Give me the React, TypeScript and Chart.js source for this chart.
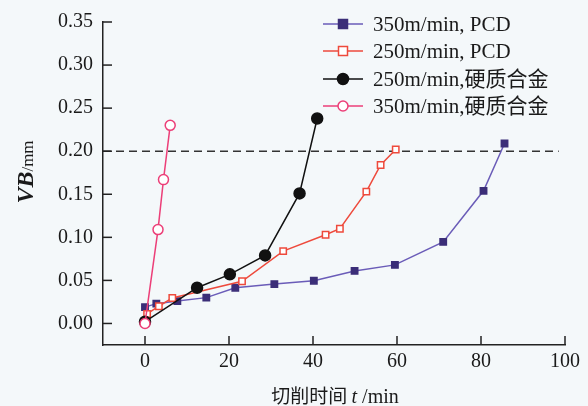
import React, { useEffect, useRef } from "react";
import { Chart, registerables } from "chart.js";
Chart.register(...registerables);

const SERIF = '"Liberation Serif", "Noto Sans CJK SC", serif';

const seriesLabels = ["350m/min, PCD", "250m/min, PCD", "250m/min,硬质合金", "350m/min,硬质合金"];

const pcd350X = [0, 2.7, 7.7, 14.6, 21.5, 30.8, 40.2, 49.9, 59.5, 71, 80.6, 85.6];
const pcd350Y = [0.019, 0.023, 0.026, 0.030, 0.0415, 0.0457, 0.0496, 0.061, 0.068, 0.0947, 0.154, 0.209];

const pcd250X = [0.5, 3.3, 6.5, 23.1, 32.9, 43, 46.4, 52.7, 56.1, 59.7];
const pcd250Y = [0.011, 0.020, 0.0296, 0.049, 0.084, 0.103, 0.110, 0.153, 0.184, 0.202];

const hard250X = [0, 12.4, 20.2, 28.6, 36.8, 41];
const hard250Y = [0.002, 0.0415, 0.057, 0.079, 0.151, 0.238];

const hard350X = [0, 3.1, 4.4, 6];
const hard350Y = [0, 0.109, 0.167, 0.23];

const limitX = [-10, 98.5];
const limitY = [0.2, 0.2];

const xTicks = [0, 20, 40, 60, 80, 100];
const yTicks = [0, 0.05, 0.1, 0.15, 0.2, 0.25, 0.3, 0.35];

const xTitle = "切削时间";
const xTitleVar = "t";
const xTitleUnit = " /min";
const yTitleVar = "VB";
const yTitleUnit = "/mm";

const zip = (xs: number[], ys: number[]) => xs.map((x, i) => ({ x, y: ys[i] }));

export default function App() {
  const ref = useRef<HTMLCanvasElement | null>(null);
  useEffect(() => {
    document.body.style.margin = "0";
    const canvas = ref.current!;
    const styles = [
      { line: "#6a5cb8", fill: "#3b2e78", stroke: "#3b2e78", style: "rect", r: 4.5 },
      { line: "#ee4a3c", fill: "#ffffff", stroke: "#ee4a3c", style: "rect", r: 4.5 },
      { line: "#111111", fill: "#111111", stroke: "#111111", style: "circle", r: 5.5 },
      { line: "#ec3f78", fill: "#ffffff", stroke: "#ec3f78", style: "circle", r: 5 },
    ];
    const mk = (i: number, data: { x: number; y: number }[]) => ({
      label: seriesLabels[i],
      data,
      borderColor: styles[i].line,
      borderWidth: 1.5,
      pointStyle: styles[i].style,
      pointRadius: styles[i].r,
      pointBackgroundColor: styles[i].fill,
      pointBorderColor: styles[i].stroke,
      pointBorderWidth: 1.5,
      showLine: true,
      tension: 0,
      fill: false,
    });

    const plugin = {
      id: "custom",
      beforeDraw(chart: any) {
        const c = chart.ctx;
        c.save();
        c.fillStyle = "#f4f8fa";
        c.fillRect(0, 0, chart.width, chart.height);
        c.restore();
      },
      afterDraw(chart: any) {
        const c = chart.ctx;
        const xs = chart.scales.x;
        const ys = chart.scales.y;
        const area = chart.chartArea;
        c.save();
        c.strokeStyle = "#222";
        c.lineWidth = 1.5;
        // inward ticks
        xTicks.forEach((v) => {
          const px = xs.getPixelForValue(v);
          c.beginPath();
          c.moveTo(px, area.bottom);
          c.lineTo(px, area.bottom - 9);
          c.stroke();
        });
        yTicks.forEach((v) => {
          const py = ys.getPixelForValue(v);
          c.beginPath();
          c.moveTo(area.left, py);
          c.lineTo(area.left + 9, py);
          c.stroke();
        });
        // legend
        const legY = [24, 51, 79, 106];
        chart.data.datasets.slice(0, 4).forEach((ds: any, i: number) => {
          const y = legY[i];
          c.strokeStyle = ds.borderColor;
          c.lineWidth = 1.5;
          c.beginPath();
          c.moveTo(323, y);
          c.lineTo(363, y);
          c.stroke();
          const s = styles[i];
          c.fillStyle = s.fill;
          c.strokeStyle = s.stroke;
          c.beginPath();
          if (s.style === "rect") {
            c.rect(343 - s.r, y - s.r, s.r * 2, s.r * 2);
          } else {
            c.arc(343, y, s.r, 0, Math.PI * 2);
          }
          c.fill();
          c.stroke();
          c.fillStyle = "#1a1a1a";
          c.font = `21px ${SERIF}`;
          c.textBaseline = "alphabetic";
          c.textAlign = "left";
          c.fillText(ds.label, 373, y + 7);
        });
        // x title
        c.fillStyle = "#1a1a1a";
        c.textBaseline = "alphabetic";
        const f1 = `19px "Noto Sans CJK SC", sans-serif`;
        const f2 = `italic 20px "Liberation Serif", serif`;
        const f3 = `20px "Liberation Serif", serif`;
        c.font = f1;
        const w1 = c.measureText(xTitle + " ").width;
        c.font = f2;
        const w2 = c.measureText(xTitleVar).width;
        c.font = f3;
        const w3 = c.measureText(xTitleUnit).width;
        let x0 = 335 - (w1 + w2 + w3) / 2;
        const by = 403;
        c.font = f1;
        c.fillText(xTitle + " ", x0, by);
        x0 += w1;
        c.font = f2;
        c.fillText(xTitleVar, x0, by);
        x0 += w2;
        c.font = f3;
        c.fillText(xTitleUnit, x0, by);
        // y title
        c.translate(33, 172);
        c.rotate(-Math.PI / 2);
        const g1 = `italic bold 24px "Liberation Serif", serif`;
        const g2 = `17px "Liberation Serif", serif`;
        c.font = g1;
        const v1 = c.measureText(yTitleVar).width;
        c.font = g2;
        const v2 = c.measureText(yTitleUnit).width;
        let y0 = -(v1 + v2) / 2;
        c.font = g1;
        c.fillText(yTitleVar, y0, 0);
        c.font = g2;
        c.fillText(yTitleUnit, y0 + v1, 0);
        c.restore();
      },
    };

    const chart = new Chart(canvas, {
      type: "line",
      data: {
        datasets: [
          mk(0, zip(pcd350X, pcd350Y)),
          mk(1, zip(pcd250X, pcd250Y)),
          mk(2, zip(hard250X, hard250Y)),
          mk(3, zip(hard350X, hard350Y)),
          {
            label: "limit",
            data: zip(limitX, limitY),
            borderColor: "#333",
            borderWidth: 1.5,
            borderDash: [8, 5],
            pointRadius: 0,
            showLine: true,
            fill: false,
          } as any,
        ].map((d: any, i: number) => ({ ...d, order: i === 4 ? 10 : 4 - i })),
      },
      options: {
        responsive: false,
        animation: false,
        clip: false as any,
        layout: { padding: { left: 0, top: 20, right: 23, bottom: 0 } },
        plugins: { legend: { display: false }, tooltip: { enabled: false } },
        scales: {
          x: {
            type: "linear",
            min: -10,
            max: 100,
            afterBuildTicks: (s: any) => {
              s.ticks = xTicks.map((v) => ({ value: v }));
            },
            afterFit: (s: any) => {
              s.height = 61;
            },
            grid: { display: true, drawOnChartArea: false, drawTicks: false },
            border: { display: true, color: "#222", width: 1.5 },
            ticks: {
              padding: 5,
              color: "#1a1a1a",
              font: { family: SERIF, size: 20 },
              callback: (v: any) => String(v),
            },
          },
          y: {
            type: "linear",
            min: -0.025,
            max: 0.35,
            afterBuildTicks: (s: any) => {
              s.ticks = yTicks.map((v) => ({ value: v }));
            },
            afterFit: (s: any) => {
              s.width = 103;
            },
            grid: { display: true, drawOnChartArea: false, drawTicks: false },
            border: { display: true, color: "#222", width: 1.5 },
            ticks: {
              padding: 10,
              color: "#1a1a1a",
              font: { family: SERIF, size: 20 },
              callback: (v: any) => Number(v).toFixed(2),
            },
          },
        },
      },
      plugins: [plugin],
    } as any);
    return () => chart.destroy();
  }, []);
  return (
    <div style={{ position: "absolute", left: 0, top: 0, width: 588, height: 406 }}>
      <canvas ref={ref} width={588} height={406} />
    </div>
  );
}
